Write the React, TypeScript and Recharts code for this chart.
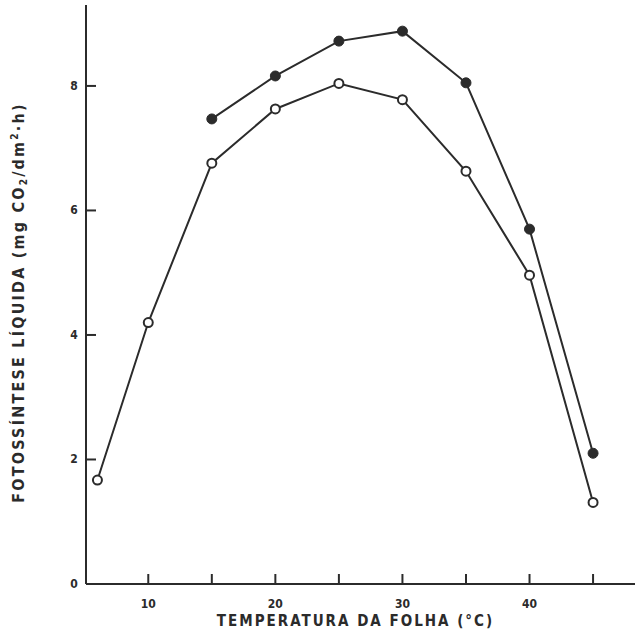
import { Label, Line, LineChart, XAxis, YAxis } from 'recharts';

const openTemps = [6, 10, 15, 20, 25, 30, 35, 40, 45];
const openValues = [1.67, 4.2, 6.76, 7.63, 8.04, 7.78, 6.63, 4.96, 1.31];
const filledTemps = [15, 20, 25, 30, 35, 40, 45];
const filledValues = [7.47, 8.16, 8.72, 8.88, 8.05, 5.7, 2.1];
const xTicks = [10, 15, 20, 25, 30, 35, 40, 45];
const xLabelled = [10, 20, 30, 40];
const yTicks = [0, 2, 4, 6, 8];

const INK = '#2b2b2b';
const FONT = '"DejaVu Sans Condensed", "DejaVu Sans", sans-serif';

const openData = openTemps.map((t, i) => ({ t, v: openValues[i] }));
const filledData = filledTemps.map((t, i) => ({ t, v: filledValues[i] }));

// tick marks point into the plot; the text sits below/left of the axis
const XTick = (props: any) => {
  const { x, y, payload } = props;
  const axisY = y - 12;
  return (
    <g>
      <path d={`M${x},${axisY + 1}V${axisY - 10}`} stroke={INK} strokeWidth={2} fill="none" />
      {xLabelled.includes(payload.value) && (
        <text x={x} y={axisY + 24} textAnchor="middle" fontFamily={FONT} fontWeight="bold" fontSize={12} fill={INK}>
          {payload.value}
        </text>
      )}
    </g>
  );
};

const YTick = (props: any) => {
  const { x, y, payload } = props;
  const axisX = x + 12;
  return (
    <g>
      {payload.value !== 0 && <path d={`M${axisX - 1},${y}H${axisX + 10}`} stroke={INK} strokeWidth={2} fill="none" />}
      <text x={axisX - 12} y={y + 4} textAnchor="middle" fontFamily={FONT} fontWeight="bold" fontSize={12} fill={INK}>
        {payload.value}
      </text>
    </g>
  );
};

const XTitle = (props: any) => {
  const { viewBox } = props;
  const cx = viewBox.x + viewBox.width / 2;
  return (
    <text x={cx - 5} y={viewBox.y + 42} textAnchor="middle" fontFamily={FONT} fontWeight="bold" fontSize={15} letterSpacing={2} fill={INK}>
      TEMPERATURA DA FOLHA (°C)
    </text>
  );
};

const YTitle = (props: any) => {
  const { viewBox } = props;
  const cy = viewBox.y + viewBox.height / 2 + 8;
  const cx = 18;
  return (
    <text
      x={cx}
      y={cy}
      transform={`rotate(-90 ${cx} ${cy})`}
      dy={6}
      textAnchor="middle"
      fontFamily={FONT}
      fontWeight="bold"
      fontSize={16}
      letterSpacing={2.2}
      fill={INK}
    >
      FOTOSSÍNTESE LÍQUIDA (mg CO
      <tspan fontSize={10} dy={3}>2</tspan>
      <tspan dy={-3}>/dm</tspan>
      <tspan fontSize={10} dy={-6}>2</tspan>
      <tspan dy={6}>·h)</tspan>
    </text>
  );
};

const OpenDot = (props: any) => {
  const { cx, cy } = props;
  return <circle cx={cx} cy={cy} r={4.5} fill="#fff" stroke={INK} strokeWidth={2} />;
};

const FilledDot = (props: any) => {
  const { cx, cy } = props;
  return <circle cx={cx} cy={cy} r={5} fill={INK} stroke={INK} strokeWidth={1} />;
};

export default function App() {
  return (
    <div style={{ position: 'absolute', left: 0, top: 0, background: '#fff' }}>
      <LineChart width={638} height={636} margin={{ top: 5, right: 3, left: 0, bottom: 0 }}>
        <XAxis
          type="number"
          dataKey="t"
          domain={[5.1, 48.3]}
          ticks={xTicks}
          height={52}
          tickSize={-1}
          tickMargin={13}
          tickLine={false}
          tick={<XTick />}
          axisLine={{ stroke: INK, strokeWidth: 2 }}
        >
          <Label content={<XTitle />} />
        </XAxis>
        <YAxis
          type="number"
          dataKey="v"
          domain={[0, 9.3]}
          ticks={yTicks}
          width={86}
          tickSize={-1}
          tickMargin={13}
          tickLine={false}
          tick={<YTick />}
          axisLine={{ stroke: INK, strokeWidth: 2 }}
        >
          <Label content={<YTitle />} />
        </YAxis>
        <Line
          data={openData}
          dataKey="v"
          type="linear"
          stroke={INK}
          strokeWidth={2}
          dot={<OpenDot />}
          activeDot={false}
          isAnimationActive={false}
        />
        <Line
          data={filledData}
          dataKey="v"
          type="linear"
          stroke={INK}
          strokeWidth={2}
          dot={<FilledDot />}
          activeDot={false}
          isAnimationActive={false}
        />
      </LineChart>
    </div>
  );
}
